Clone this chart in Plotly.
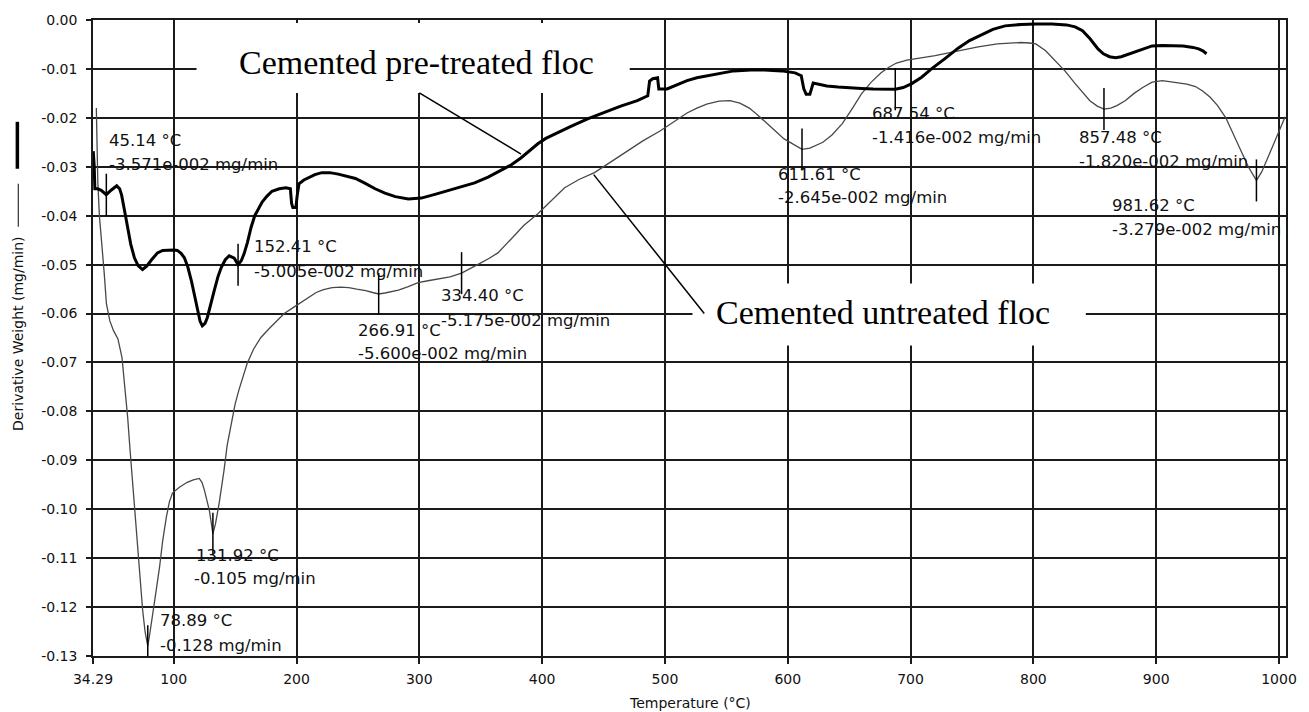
import plotly.graph_objects as go

# ---------------- data ----------------
pre_T = [34.5, 35.3, 35.8, 38, 41, 45.14, 49, 53.6, 56, 57.6, 60, 62.5, 65, 68, 71, 74.6, 78, 82, 86.8,
         91, 95, 100, 103, 106, 108.7, 111.5, 114.4, 117, 119.3, 121.5, 123.3, 125.5, 127.4, 130, 133,
         136, 138.7, 142, 145.2, 149.3, 152.41, 155, 157.3, 160, 163, 166, 168, 172, 176, 180, 186,
         191.4, 195, 196, 197, 199.5, 200.5, 202, 206, 210, 215, 220.6, 227, 234, 241, 248, 256, 264,
         272, 280.5, 291, 301.6, 312, 323.4, 334, 345, 356, 366.5, 375, 382.7, 390, 396.5, 403, 410,
         423, 437, 450, 464, 477.5, 486, 487.5, 490, 494, 495, 501.7, 510, 518, 526, 534, 545, 556,
         570, 581, 595, 606, 611, 613, 615, 618, 620.7, 626, 631.8, 641, 650.7, 660, 669.6, 680,
         687.54, 694, 701, 709, 717, 728, 739, 748, 758, 767, 777, 790, 802, 815, 827, 834, 840, 846,
         852.6, 857, 862, 867, 871.5, 876, 881, 888, 896.7, 905, 915, 922, 930, 934.6, 938, 941]
pre_V = [-0.0268, -0.0300, -0.0345, -0.0345, -0.0348, -0.0357, -0.0348, -0.0339, -0.0345, -0.0358,
         -0.0390, -0.0424, -0.0458, -0.0486, -0.0502, -0.0510, -0.0503, -0.0490, -0.0476, -0.0471,
         -0.0470, -0.0470, -0.0471, -0.0477, -0.0486, -0.0505, -0.0533, -0.0565, -0.0594, -0.0616,
         -0.0625, -0.0620, -0.0608, -0.0585, -0.0553, -0.0525, -0.0506, -0.0490, -0.0482, -0.0487,
         -0.0500, -0.0492, -0.0478, -0.0455, -0.0424, -0.0400, -0.0390, -0.0372, -0.0360, -0.0350,
         -0.0345, -0.0343, -0.0345, -0.0375, -0.0383, -0.0383, -0.0360, -0.0335, -0.0327, -0.0322,
         -0.0316, -0.0312, -0.0312, -0.0315, -0.0319, -0.0324, -0.0334, -0.0345, -0.0354, -0.0361,
         -0.0366, -0.0364, -0.0357, -0.0349, -0.0341, -0.0333, -0.0321, -0.0308, -0.0296, -0.0282,
         -0.0266, -0.0253, -0.0242, -0.0233, -0.0218, -0.0202, -0.0189, -0.0176, -0.0165, -0.0155,
         -0.0125, -0.0120, -0.0118, -0.0141, -0.0141, -0.0132, -0.0124, -0.0118, -0.0114, -0.0108,
         -0.0104, -0.0102, -0.0102, -0.0104, -0.0108, -0.0114, -0.0140, -0.0152, -0.0152, -0.0129,
         -0.0132, -0.0135, -0.0137, -0.0139, -0.0140, -0.0141, -0.0141, -0.01416, -0.0138, -0.0130,
         -0.0117, -0.0100, -0.0079, -0.0057, -0.0042, -0.0029, -0.0019, -0.0012, -0.0009, -0.0008,
         -0.0008, -0.0010, -0.0014, -0.0022, -0.0038, -0.0059, -0.0069, -0.0075, -0.0077, -0.0075,
         -0.0071, -0.0067, -0.0060, -0.0053, -0.0052, -0.0052, -0.0053, -0.0056, -0.0059, -0.0063,
         -0.0069]

unt_T = [37.0, 37.4, 38.2, 39.5, 41.5, 43.5, 45.2, 48, 51, 54.6, 57.9, 60, 62.5, 64.5, 66.6, 68.6, 70.6,
         72.7, 74.7, 76.7, 78.89, 80.5, 82.8, 85.5, 88.5, 91, 94, 96.5, 99, 104.6, 111, 116, 120.8, 123,
         125, 127, 129, 131.92, 134, 137, 139, 141, 143.5, 146.8, 150, 153, 156.5, 159.8, 165, 171, 178,
         184, 190, 196, 202.3, 209, 216, 222, 229, 236, 242.5, 249, 256.4, 262, 266.91, 272, 277, 283,
         291, 299, 307, 315.5, 325, 334.4, 342, 350.5, 357, 364, 374.6, 385, 396.5, 407, 418.3, 430,
         442.6, 456, 469.4, 482, 496, 510, 518, 526, 534, 544, 553, 561, 568.7, 575, 581, 589, 597, 605,
         611.61, 618, 623, 628.6, 636, 644.4, 652, 660, 668, 676, 682, 688.5, 697, 707.5, 720, 739, 755,
         770.6, 780, 789.5, 797, 802, 810, 818, 826, 833.7, 840, 846, 852, 857.48, 863, 868, 874.7, 882,
         889, 896.7, 905, 915.7, 925, 932, 937.8, 944, 950, 956.7, 962, 969.3, 975, 981.62, 986, 992,
         998, 1005]
unt_V = [-0.0180, -0.0267, -0.0330, -0.0400, -0.0455, -0.0520, -0.0580, -0.0615, -0.0635, -0.0652,
         -0.0690, -0.0745, -0.0812, -0.0880, -0.0947, -0.1015, -0.1084, -0.1145, -0.1206, -0.1250,
         -0.1280, -0.1255, -0.1220, -0.1170, -0.1118, -0.1065, -0.1016, -0.0985, -0.0967, -0.0955,
         -0.0945, -0.0940, -0.0937, -0.0945, -0.0961, -0.0980, -0.1002, -0.1050, -0.1030, -0.0988,
         -0.0955, -0.0920, -0.0870, -0.0824, -0.0785, -0.0757, -0.0728, -0.0702, -0.0673, -0.0649,
         -0.0630, -0.0614, -0.0600, -0.0590, -0.0580, -0.0568, -0.0557, -0.0551, -0.0547, -0.0546,
         -0.0547, -0.0550, -0.0553, -0.0557, -0.0560, -0.0558, -0.0555, -0.0552, -0.0545, -0.0537,
         -0.0533, -0.0529, -0.0525, -0.05175, -0.0508, -0.0496, -0.0487, -0.0476, -0.0448, -0.0420,
         -0.0396, -0.0370, -0.0343, -0.0326, -0.0312, -0.0290, -0.0267, -0.0247, -0.0227, -0.0203,
         -0.0190, -0.0180, -0.0172, -0.0166, -0.0165, -0.0170, -0.0180, -0.0193, -0.0206, -0.0225,
         -0.0243, -0.0255, -0.02645, -0.0262, -0.0257, -0.0250, -0.0235, -0.0212, -0.0183, -0.0151,
         -0.0127, -0.0108, -0.0097, -0.0088, -0.0082, -0.0078, -0.0073, -0.0063, -0.0055, -0.0049,
         -0.0047, -0.0046, -0.0047, -0.0049, -0.0063, -0.0084, -0.0105, -0.0129, -0.0148, -0.0165,
         -0.0176, -0.0182, -0.0180, -0.0175, -0.0165, -0.0150, -0.0138, -0.0127, -0.0124, -0.0127,
         -0.0131, -0.0136, -0.0145, -0.0158, -0.0175, -0.0200, -0.0228, -0.0267, -0.0300, -0.03279,
         -0.0310, -0.0275, -0.0240, -0.0198]

peak_T = [45.14, 152.41, 266.91, 334.40, 131.92, 78.89, 611.61, 687.54, 857.48, 981.62]
peak_V = [-0.03571, -0.05005, -0.05600, -0.05175, -0.105, -0.128, -0.02645, -0.01416, -0.01820, -0.03279]
peak_temp_labels = ["45.14 °C", "152.41 °C", "266.91 °C", "334.40 °C", "131.92 °C", "78.89 °C",
                    "611.61 °C", "687.54 °C", "857.48 °C", "981.62 °C"]
peak_value_labels = ["-3.571e-002 mg/min", "-5.005e-002 mg/min", "-5.600e-002 mg/min",
                     "-5.175e-002 mg/min", "-0.105 mg/min", "-0.128 mg/min", "-2.645e-002 mg/min",
                     "-1.416e-002 mg/min", "-1.820e-002 mg/min", "-3.279e-002 mg/min"]

x_tickvals = [34.29, 100, 200, 300, 400, 500, 600, 700, 800, 900, 1000]
x_ticktext = ["34.29", "100", "200", "300", "400", "500", "600", "700", "800", "900", "1000"]
y_tickvals = [0.0, -0.01, -0.02, -0.03, -0.04, -0.05, -0.06, -0.07, -0.08, -0.09, -0.10, -0.11, -0.12, -0.13]
y_ticktext = ["0.00", "-0.01", "-0.02", "-0.03", "-0.04", "-0.05", "-0.06", "-0.07", "-0.08", "-0.09",
              "-0.10", "-0.11", "-0.12", "-0.13"]

series_names = ["Cemented pre-treated floc", "Cemented untreated floc"]
x_title = "Temperature (°C)"
y_title = "Derivative Weight (mg/min)"

# label placement (pixel offsets of each label line's top-left from its peak)
label_dx1 = [1, 14, -23, -23, -19, 10, -26, -25, -27, -146]
label_dx2 = [1, 14, -23, -23, -21, 10, -26, -25, -27, -146]
label_dy1 = [-66, -30, 25, 11, 10, -37, 14, 13, 17, 14]
label_dy2 = [-42, -5, 48, 36, 33, -12, 37, 37, 41, 38]

GRID = "#1a1a1a"
TXT = "#111111"
SANS = "DejaVu Sans"

fig = go.Figure()
fig.add_trace(go.Scatter(x=unt_T, y=unt_V, mode="lines", name=series_names[1],
                         line=dict(color="#484848", width=1.3)))
fig.add_trace(go.Scatter(x=pre_T, y=pre_V, mode="lines", name=series_names[0],
                         line=dict(color="#000000", width=3)))
fig.add_trace(go.Scatter(x=peak_T, y=peak_V, mode="markers", showlegend=False,
                         marker=dict(symbol="line-ns", size=30,
                                     line=dict(color="#000000", width=1.5))))

annotations = []
for i in range(len(peak_T)):
    annotations.append(dict(x=peak_T[i], y=peak_V[i], xref="x", yref="y", text=peak_temp_labels[i],
                            showarrow=False, xanchor="left", yanchor="top",
                            xshift=label_dx1[i], yshift=-label_dy1[i],
                            font=dict(family=SANS, size=16.5, color=TXT)))
    annotations.append(dict(x=peak_T[i], y=peak_V[i], xref="x", yref="y", text=peak_value_labels[i],
                            showarrow=False, xanchor="left", yanchor="top",
                            xshift=label_dx2[i], yshift=-label_dy2[i],
                            font=dict(family=SANS, size=16.5, color=TXT)))

# series labels
annotations.append(dict(x=0.2709, y=0.9333, xref="paper", yref="paper", text=series_names[0],
                        showarrow=False, xanchor="center", yanchor="middle",
                        font=dict(family="Liberation Serif", size=34, color="#000")))
annotations.append(dict(x=0.6619, y=0.5408, xref="paper", yref="paper", text=series_names[1],
                        showarrow=False, xanchor="center", yanchor="middle",
                        font=dict(family="Liberation Serif", size=34, color="#000")))
# axis titles
annotations.append(dict(x=-0.0634, y=0.507, xref="paper", yref="paper", text=y_title,
                        showarrow=False, xanchor="center", yanchor="middle", textangle=-90,
                        font=dict(family=SANS, size=14, color=TXT)))
annotations.append(dict(x=0.5, y=-0.0745, xref="paper", yref="paper", text=x_title,
                        showarrow=False, xanchor="center", yanchor="middle",
                        font=dict(family=SANS, size=14, color=TXT)))

shapes = [
    # white label boxes
    dict(type="rect", xref="paper", yref="paper", x0=0.0868, x1=0.4499, y0=0.8854, y1=0.9953,
         fillcolor="white", line=dict(width=0), layer="above"),
    dict(type="rect", xref="paper", yref="paper", x0=0.5025, x1=0.8322, y0=0.4882, y1=0.5856,
         fillcolor="white", line=dict(width=0), layer="above"),
    # leader lines
    dict(type="line", xref="x", yref="y", x0=300, y0=-0.0149, x1=382.8, y1=-0.0274,
         line=dict(color="#000", width=1.5), layer="above"),
    dict(type="line", xref="x", yref="y", x0=442, y0=-0.0316, x1=532, y1=-0.0600,
         line=dict(color="#000", width=1.5), layer="above"),
    # legend-like strokes beside the y title
    dict(type="line", xref="paper", yref="paper", x0=-0.0634, x1=-0.0634, y0=0.7661, y1=0.8399,
         line=dict(color="#000", width=3.5)),
    dict(type="line", xref="paper", yref="paper", x0=-0.0626, x1=-0.0626, y0=0.675, y1=0.7425,
         line=dict(color="#333", width=1.2)),
]

fig.update_layout(
    width=1309, height=712,
    margin=dict(l=93, r=18, t=19, b=56),
    paper_bgcolor="white", plot_bgcolor="white",
    showlegend=False,
    annotations=annotations,
    shapes=shapes,
    xaxis=dict(range=[34.29, 1005.7], tickvals=x_tickvals, ticktext=x_ticktext,
               showgrid=True, gridcolor=GRID, gridwidth=1.5, zeroline=False,
               showline=True, linecolor=GRID, linewidth=1.5, mirror=True,
               ticks="outside", ticklen=6, tickcolor=GRID, tickwidth=1.5,
               ticklabelstandoff=3,
               tickfont=dict(family=SANS, size=14, color=TXT)),
    yaxis=dict(range=[-0.13, 0.0], tickvals=y_tickvals, ticktext=y_ticktext,
               showgrid=True, gridcolor=GRID, gridwidth=1.5, zeroline=False,
               showline=True, linecolor=GRID, linewidth=1.5, mirror=True,
               ticks="outside", ticklen=5, tickcolor=GRID, tickwidth=1.5,
               ticklabelstandoff=6,
               tickfont=dict(family=SANS, size=14, color=TXT)),
)

fig.write_html("out.html")
